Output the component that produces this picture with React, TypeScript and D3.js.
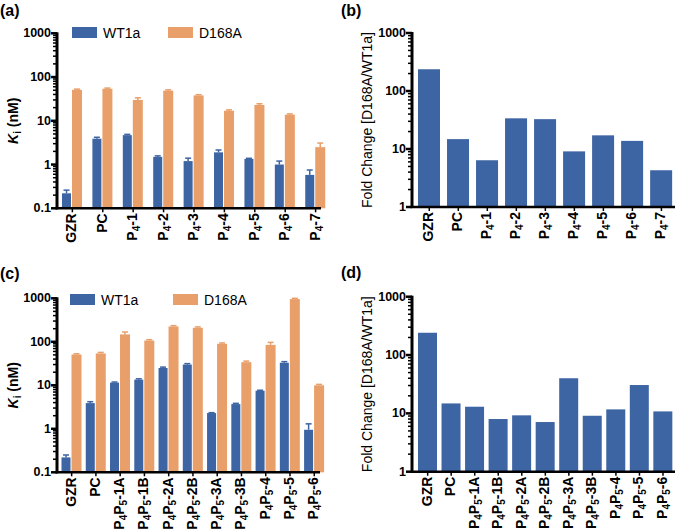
import React from "react";
import * as d3 from "d3";

const catsA = ["GZR", "PC", "P4-1", "P4-2", "P4-3", "P4-4", "P4-5", "P4-6", "P4-7"];
const wtA = [0.22, 3.9, 4.7, 1.5, 1.2, 1.9, 1.35, 1.0, 0.58];
const wtAErr = [0.04, 0.3, 0.2, 0.08, 0.2, 0.25, 0.04, 0.2, 0.17];
const mutA = [51, 54, 30, 49, 38, 17, 23, 13.8, 2.5];
const mutAErr = [2, 2, 3.5, 2, 1.5, 0.8, 1.5, 0.6, 0.6];

const catsB = catsA;
const foldB = [237, 14.8, 6.4, 33.8, 32.7, 9.1, 17.2, 13.8, 4.3];

const catsC = ["GZR", "PC", "P4P5-1A", "P4P5-1B", "P4P5-2A", "P4P5-2B", "P4P5-3A", "P4P5-3B", "P4P5-4", "P4P5-5", "P4P5-6"];
const wtC = [0.22, 3.9, 11.5, 13.5, 25, 30, 2.3, 3.7, 7.5, 33, 0.95];
const wtCErr = [0.03, 0.3, 0.4, 0.6, 1.2, 1.5, 0.05, 0.15, 0.2, 2, 0.35];
const mutC = [51, 54, 148, 107, 225, 210, 90, 34, 85, 960, 10];
const mutCErr = [2, 3, 20, 5, 10, 10, 4, 2, 12, 40, 0.5];

const catsD = catsC;
const foldD = [241, 14.8, 13, 8.0, 9.25, 7.1, 40, 9.1, 11.7, 30.6, 10.8];

const yTicksK = [0.1, 1, 10, 100, 1000];
const yTicksF = [1, 10, 100, 1000];

const BLUE = "#3D64A3";
const ORANGE = "#E99F69";
const FONT = "'Liberation Sans', Arial, Helvetica, sans-serif";

function Label({ text, x, y }: { text: string; x: number; y: number }) {
  const parts = text.split(/(P\d)/).filter((s) => s.length > 0);
  const spans: React.ReactNode[] = [];
  let shifted = false;
  parts.forEach((p, i) => {
    const m = p.match(/^P(\d)$/);
    if (m) {
      spans.push(
        <tspan key={i + "a"} dy={shifted ? -4 : 0}>P</tspan>
      );
      spans.push(
        <tspan key={i + "b"} dy={4} fontSize={10}>{m[1]}</tspan>
      );
      shifted = true;
    } else {
      spans.push(
        <tspan key={i} dy={shifted ? -4 : 0}>{p}</tspan>
      );
      shifted = false;
    }
  });
  return (
    <text
      transform={`translate(${x},${y}) rotate(-90)`}
      textAnchor="end"
      dominantBaseline="central"
      fontSize={14}
      fontWeight="bold"
      fontFamily={FONT}
      fill="#000"
    >
      {spans}
    </text>
  );
}

type Series = { values: number[]; err?: number[]; color: string };

function Panel(props: {
  cats: string[];
  series: Series[];
  domain: [number, number];
  ticks: number[];
  axisX: number;
  axisEnd: number;
  yTop: number;
  yBot: number;
  bandStart: number;
  step: number;
  groupW: number;
  barWs: number[];
  barGap: number;
  ylabel: React.ReactNode;
  ylabelX: number;
  letter: string;
  letterX: number;
  letterY: number;
  legend?: { x: number; y: number; x2: number };
}) {
  const p = props;
  const y = d3.scaleLog().domain(p.domain).range([p.yBot, p.yTop]);
  const n = p.cats.length;
  const x = d3
    .scaleBand<string>()
    .domain(p.cats)
    .range([p.bandStart, p.bandStart + p.step * n])
    .paddingInner(1 - p.groupW / p.step)
    .paddingOuter(0)
    .align(0);
  const minor: number[] = [];
  for (let e = Math.log10(p.domain[0]); e < Math.log10(p.domain[1]); e++) {
    for (let k = 2; k <= 9; k++) minor.push(k * Math.pow(10, e));
  }
  const ymid = (p.yTop + p.yBot) / 2;
  return (
    <g>
      <text x={p.letterX} y={p.letterY} fontSize={16} fontWeight="bold" fontFamily={FONT}>
        {p.letter}
      </text>
      {p.cats.map((c, i) => {
        let off = 0;
        return p.series.map((s, si) => {
          const w = p.barWs[si];
          const bx = (x(c) as number) + off;
          off += w + p.barGap;
          const v = s.values[i];
          const top = y(v);
          const els: React.ReactNode[] = [
            <rect key={`r${si}`} x={bx} y={top} width={w} height={p.yBot - top} fill={s.color} />,
          ];
          if (s.err) {
            const ey = y(v + s.err[i]);
            const cx = bx + w / 2;
            els.push(
              <line key={`e${si}`} x1={cx} x2={cx} y1={top} y2={ey} stroke={s.color} strokeWidth={1.5} />,
              <line key={`c${si}`} x1={cx - 3} x2={cx + 3} y1={ey} y2={ey} stroke={s.color} strokeWidth={1.5} />
            );
          }
          return <g key={`${c}-${si}`}>{els}</g>;
        });
      })}
      <line x1={p.axisX} x2={p.axisX} y1={p.yTop - 1} y2={p.yBot + 1} stroke="#000" strokeWidth={3} />
      {minor.map((m, i) => (
        <line key={i} x1={p.axisX - 4} x2={p.axisX} y1={y(m)} y2={y(m)} stroke="#000" strokeWidth={1.5} />
      ))}
      {p.ticks.map((t) => (
        <g key={t}>
          <line x1={p.axisX - 6} x2={p.axisX} y1={y(t)} y2={y(t)} stroke="#000" strokeWidth={2.5} />
          <text
            x={p.axisX - 6}
            y={y(t)}
            textAnchor="end"
            dominantBaseline="central"
            fontSize={12.5}
            fontWeight="bold"
            fontFamily={FONT}
          >
            {String(t)}
          </text>
        </g>
      ))}
      <line x1={p.axisX - 1.5} x2={p.axisEnd} y1={p.yBot} y2={p.yBot} stroke="#000" strokeWidth={2.5} />
      {p.cats.map((c) => {
        const cx = (x(c) as number) + x.bandwidth() / 2;
        return (
          <g key={c}>
            <line x1={cx} x2={cx} y1={p.yBot} y2={p.yBot + 4} stroke="#000" strokeWidth={1.5} />
            <Label text={c} x={cx - 1} y={p.yBot + 5} />
          </g>
        );
      })}
      <g transform={`translate(${p.ylabelX},${ymid}) rotate(-90)`}>{p.ylabel}</g>
      {p.legend && (
        <g fontFamily={FONT} fontSize={14}>
          <rect x={p.legend.x} y={p.legend.y} width={25} height={11} fill={BLUE} />
          <text x={p.legend.x + 31} y={p.legend.y + 5.5} dominantBaseline="central">WT1a</text>
          <rect x={p.legend.x2} y={p.legend.y} width={25} height={11} fill={ORANGE} />
          <text x={p.legend.x2 + 31} y={p.legend.y + 5.5} dominantBaseline="central">D168A</text>
        </g>
      )}
    </g>
  );
}

const kLabel = (
  <text textAnchor="middle" dominantBaseline="central" fontSize={14} fontWeight="bold" fontFamily={FONT}>
    <tspan fontStyle="italic">K</tspan>
    <tspan fontSize={10} dy={4}>i</tspan>
    <tspan dy={-4}> (nM)</tspan>
  </text>
);

const fLabel = (
  <text textAnchor="middle" dominantBaseline="central" fontSize={14} fontFamily={FONT}>
    Fold Change [D168A/WT1a]
  </text>
);

export default function App() {
  return (
    <svg
      width={675}
      height={532}
      style={{ position: "absolute", left: 0, top: 0, background: "#fff" }}
    >
      <Panel
        cats={catsA}
        series={[
          { values: wtA, err: wtAErr, color: BLUE },
          { values: mutA, err: mutAErr, color: ORANGE },
        ]}
        domain={[0.1, 1000]}
        ticks={yTicksK}
        axisX={57}
        axisEnd={321}
        yTop={33.3}
        yBot={208.3}
        bandStart={62}
        step={29.33}
        groupW={20}
        barWs={[9, 10]}
        barGap={1}
        ylabel={kLabel}
        ylabelX={13}
        letter="(a)"
        letterX={0}
        letterY={16}
        legend={{ x: 72, y: 27, x2: 168 }}
      />
      <Panel
        cats={catsB}
        series={[{ values: foldB, color: BLUE }]}
        domain={[1, 1000]}
        ticks={yTicksF}
        axisX={412}
        axisEnd={675}
        yTop={33}
        yBot={207}
        bandStart={418}
        step={28.3}
        groupW={22}
        barWs={[22]}
        barGap={0}
        ylabel={fLabel}
        ylabelX={367}
        letter="(b)"
        letterX={341}
        letterY={16}
      />
      <Panel
        cats={catsC}
        series={[
          { values: wtC, err: wtCErr, color: BLUE },
          { values: mutC, err: mutCErr, color: ORANGE },
        ]}
        domain={[0.1, 1000]}
        ticks={yTicksK}
        axisX={57}
        axisEnd={320}
        yTop={298.3}
        yBot={472.3}
        bandStart={61.5}
        step={23.9}
        groupW={20}
        barWs={[9, 10]}
        barGap={1}
        ylabel={kLabel}
        ylabelX={13}
        letter="(c)"
        letterX={0}
        letterY={279}
        legend={{ x: 70, y: 294, x2: 173 }}
      />
      <Panel
        cats={catsD}
        series={[{ values: foldD, color: BLUE }]}
        domain={[1, 1000]}
        ticks={yTicksF}
        axisX={412}
        axisEnd={675}
        yTop={296.7}
        yBot={471.7}
        bandStart={418}
        step={23.15}
        groupW={19}
        barWs={[19]}
        barGap={0}
        ylabel={fLabel}
        ylabelX={367}
        letter="(d)"
        letterX={341}
        letterY={278}
      />
    </svg>
  );
}
